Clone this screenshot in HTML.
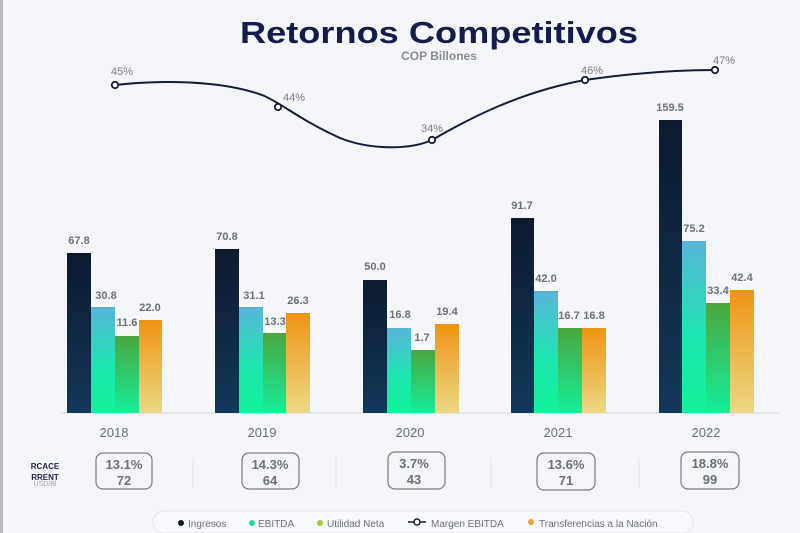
<!DOCTYPE html>
<html><head><meta charset="utf-8"><style>
html,body{margin:0;padding:0;background:#f5f6fa;}
svg{display:block;font-family:"Liberation Sans",sans-serif;}
</style></head><body>
<svg width="800" height="533" viewBox="0 0 800 533" xmlns="http://www.w3.org/2000/svg">
<defs>
<linearGradient id="gi" x1="0" y1="0" x2="0" y2="1"><stop offset="0" stop-color="#0d1a2e"/><stop offset="1" stop-color="#13385a"/></linearGradient>
<linearGradient id="ge" x1="0" y1="0" x2="0" y2="1"><stop offset="0" stop-color="#5ab4dc"/><stop offset="0.55" stop-color="#1ee6b0"/><stop offset="1" stop-color="#12f29a"/></linearGradient>
<linearGradient id="gu" x1="0" y1="0" x2="0" y2="1"><stop offset="0" stop-color="#4aa63c"/><stop offset="1" stop-color="#15ee9a"/></linearGradient>
<linearGradient id="gt" x1="0" y1="0" x2="0" y2="1"><stop offset="0" stop-color="#ee9412"/><stop offset="1" stop-color="#ecd884"/></linearGradient>
</defs>
<rect width="800" height="533" fill="#f5f6fa"/>
<rect x="0" y="0" width="3" height="533" fill="#b8b8bc"/>
<text x="240" y="43" font-size="31" font-weight="bold" fill="#151c4c" textLength="398" lengthAdjust="spacingAndGlyphs">Retornos Competitivos</text>
<text x="439" y="60" text-anchor="middle" font-size="12" font-weight="bold" fill="#8a8c94">COP Billones</text>

<line x1="60" y1="413" x2="780" y2="413" stroke="#d4d6de" stroke-width="1"/>

<g font-size="11" font-weight="bold" fill="#6e7078" text-anchor="middle">
<rect x="67" y="253" width="24" height="160" fill="url(#gi)"/>
<rect x="91" y="307" width="24" height="106" fill="url(#ge)"/>
<rect x="115" y="336" width="24" height="77" fill="url(#gu)"/>
<rect x="139" y="320" width="23" height="93" fill="url(#gt)"/>
<text x="79" y="244">67.8</text><text x="106" y="299">30.8</text><text x="127" y="326">11.6</text><text x="150" y="311">22.0</text>
<rect x="215" y="249" width="24" height="164" fill="url(#gi)"/>
<rect x="239" y="307" width="24" height="106" fill="url(#ge)"/>
<rect x="263" y="333" width="23" height="80" fill="url(#gu)"/>
<rect x="286" y="313" width="24" height="100" fill="url(#gt)"/>
<text x="227" y="240">70.8</text><text x="254" y="299">31.1</text><text x="275" y="325">13.3</text><text x="298" y="304">26.3</text>
<rect x="363" y="280" width="24" height="133" fill="url(#gi)"/>
<rect x="387" y="328" width="24" height="85" fill="url(#ge)"/>
<rect x="411" y="350" width="24" height="63" fill="url(#gu)"/>
<rect x="435" y="324" width="24" height="89" fill="url(#gt)"/>
<text x="375" y="270">50.0</text><text x="400" y="318">16.8</text><text x="422" y="341">1.7</text><text x="447" y="315">19.4</text>
<rect x="511" y="218" width="23" height="195" fill="url(#gi)"/>
<rect x="534" y="291" width="24" height="122" fill="url(#ge)"/>
<rect x="558" y="328" width="24" height="85" fill="url(#gu)"/>
<rect x="582" y="328" width="24" height="85" fill="url(#gt)"/>
<text x="522" y="209">91.7</text><text x="546" y="282">42.0</text><text x="569" y="319">16.7</text><text x="594" y="319">16.8</text>
<rect x="659" y="120" width="23" height="293" fill="url(#gi)"/>
<rect x="682" y="241" width="24" height="172" fill="url(#ge)"/>
<rect x="706" y="303" width="24" height="110" fill="url(#gu)"/>
<rect x="730" y="290" width="24" height="123" fill="url(#gt)"/>
<text x="670" y="111">159.5</text><text x="694" y="232">75.2</text><text x="718" y="294">33.4</text><text x="742" y="281">42.4</text>
</g>

<g font-size="13" fill="#6e7078" text-anchor="middle">
<text x="114" y="437">2018</text><text x="262" y="437">2019</text><text x="410" y="437">2020</text><text x="558" y="437">2021</text><text x="706" y="437">2022</text>
</g>

<path d="M115,85 C160,80 220,80 262,95 C280,102 300,120 340,138 C370,150 410,150 432,140 C470,118 520,92 585,80 C640,72 680,70 715,70" fill="none" stroke="#141c3a" stroke-width="2"/>
<g fill="#fff" stroke="#141c3a" stroke-width="1.8">
<circle cx="115" cy="85" r="3.2"/><circle cx="278" cy="107" r="3.2"/><circle cx="432" cy="140" r="3.2"/><circle cx="585" cy="80" r="3.2"/><circle cx="715" cy="70" r="3.2"/>
</g>
<g font-size="11" fill="#7a7c84" text-anchor="middle">
<text x="122" y="75">45%</text><text x="294" y="101">44%</text><text x="432" y="132">34%</text><text x="592" y="74">46%</text><text x="724" y="64">47%</text>
</g>

<text x="45" y="469" text-anchor="middle" font-size="8" font-weight="bold" fill="#1e2450">RCACE</text>
<text x="45" y="480" text-anchor="middle" font-size="8" font-weight="bold" fill="#1e2450">RRENT</text>
<text x="45" y="486" text-anchor="middle" font-size="7" fill="#a0a2aa">USD/Bl</text>

<g stroke="#e0e2e8" stroke-width="1"><line x1="193" y1="458" x2="193" y2="488"/><line x1="336" y1="458" x2="336" y2="488"/><line x1="491" y1="458" x2="491" y2="488"/><line x1="639" y1="458" x2="639" y2="488"/></g>
<g fill="none" stroke="#7a7c84" stroke-width="1.2">
<rect x="96" y="453" width="56" height="36" rx="7"/><rect x="242" y="453" width="57" height="36" rx="7"/><rect x="388" y="452" width="57" height="37" rx="7"/><rect x="537" y="453" width="58" height="37" rx="7"/><rect x="681" y="452" width="58" height="37" rx="7"/>
</g>
<g font-size="13" font-weight="bold" fill="#6e7078" text-anchor="middle">
<text x="124" y="469">13.1%</text><text x="124" y="485">72</text>
<text x="270" y="469">14.3%</text><text x="270" y="485">64</text>
<text x="414" y="468">3.7%</text><text x="414" y="484">43</text>
<text x="566" y="469">13.6%</text><text x="566" y="485">71</text>
<text x="710" y="468">18.8%</text><text x="710" y="484">99</text>
</g>

<rect x="153" y="511" width="540" height="22" rx="11" fill="#f8f9fc" stroke="#e2e4ea"/>
<g font-size="10" fill="#6e7078">
<circle cx="181" cy="523" r="3" fill="#0d1a2e"/><text x="188" y="527">Ingresos</text>
<circle cx="252" cy="523" r="3" fill="#20d8a0"/><text x="258" y="527">EBITDA</text>
<circle cx="320" cy="523" r="3" fill="#a8c832"/><text x="327" y="527">Utilidad Neta</text>
<line x1="408" y1="522" x2="426" y2="522" stroke="#141c3a" stroke-width="1.5"/><circle cx="417" cy="522" r="3" fill="#fff" stroke="#141c3a" stroke-width="1.5"/><text x="431" y="527">Margen EBITDA</text>
<circle cx="531" cy="522" r="3" fill="#f0a030"/><text x="539" y="527">Transferencias a la Nación</text>
</g>
</svg>
</body></html>
